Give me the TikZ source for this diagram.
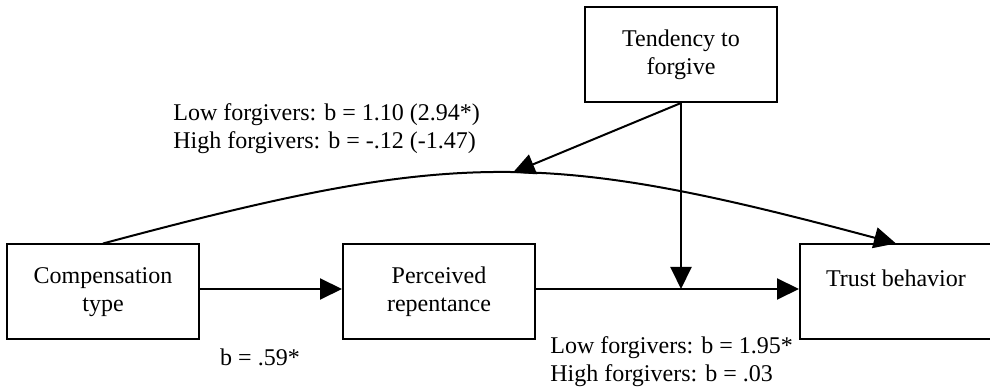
\documentclass[tikz,border=0pt]{standalone}
\usepackage{fontspec}
\setmainfont{Liberation Serif}
\usepackage{tikz}
\usetikzlibrary{arrows.meta, positioning, calc}

\begin{document}
\begin{tikzpicture}[
    x=0.5pt, y=0.5pt,
    box/.style={rectangle, draw=black, line width=1pt, minimum width=96pt, minimum height=47.5pt,
        font=\rmfamily\fontsize{12}{14}\selectfont, align=center, inner sep=2pt},
    arr/.style={-{Triangle[length=11pt, width=10.5pt]}, line width=1pt},
    coef/.style={font=\rmfamily\fontsize{12}{14.2}\selectfont, align=left, inner sep=0pt},
]
\useasboundingbox (0,0) rectangle (990,390);
\node[box] (tend) at (681,335.5) {Tendency to\\forgive};
\node[box] (comp) at (103,98) {Compensation\\type};
\node[box] (perc) at (439,98) {Perceived\\repentance};
\node[box] (trust) at (896,98) {Trust behavior\\\phantom{x}};
\coordinate (mod) at ([yshift=1.5pt]tend.south |- perc.east);
\draw[arr] ([yshift=1.5pt]comp.east) -- ([yshift=1.5pt]perc.west);
\draw[arr] ([yshift=1.5pt]perc.east) -- ([yshift=1.5pt]trust.west);
\draw[arr] (tend.south) -- (mod);
\draw[arr] (comp.north) to[out=15, in=165, looseness=1.18] coordinate[pos=0.52] (top) (trust.north);
\draw[arr] (tend.south) -- (top);
\node[coef, anchor=west] (ind) at (173,261.5) {Low forgivers: b = 1.10 (2.94*)\\High forgivers: b = -.12 (-1.47)};
\node[coef] (a) at (260,33) {b = .59*};
\node[coef, anchor=west] (bpath) at (550,28.5) {Low forgivers: b = 1.95*\\High forgivers: b = .03};
\end{tikzpicture}
\end{document}
